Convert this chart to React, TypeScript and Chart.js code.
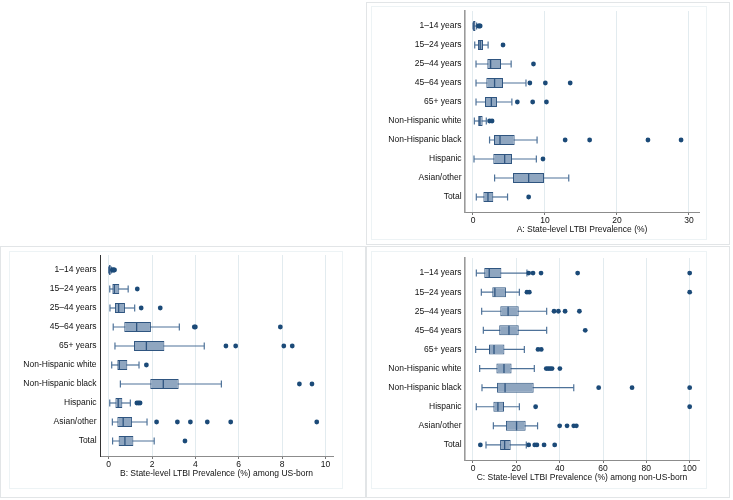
import React, { useEffect, useRef } from 'react';
import { Chart, registerables } from 'chart.js';

Chart.register(...registerables);

// ---------- data ----------
const categories = [
  '1–14 years',
  '15–24 years',
  '25–44 years',
  '45–64 years',
  '65+ years',
  'Non-Hispanic white',
  'Non-Hispanic black',
  'Hispanic',
  'Asian/other',
  'Total',
];

// Panel A: State-level LTBI prevalence (%)
const aTicks = [0, 10, 20, 30];
const aLow = [0.0, 0.24, 0.42, 0.42, 0.42, 0.19, 2.3, 0.14, 3.0, 0.46];
const aQ1 = [0.03, 0.69, 1.99, 1.85, 1.67, 0.72, 2.92, 2.82, 5.56, 1.44];
const aMed = [0.12, 1.0, 2.45, 3.0, 2.55, 0.95, 3.75, 4.4, 7.73, 2.08];
const aQ3 = [0.35, 1.39, 3.89, 4.17, 3.33, 1.34, 5.79, 5.42, 9.86, 2.82];
const aHigh = [0.5, 2.1, 5.3, 7.36, 5.4, 1.85, 8.9, 8.8, 13.3, 4.8];
const aOut = [
  [0.75, 0.9, 1.0],
  [4.17],
  [8.4],
  [7.9, 10.05, 13.5],
  [6.16, 8.29, 10.2],
  [2.3, 2.65],
  [12.8, 16.2, 24.3, 28.9],
  [9.72],
  [],
  [7.73],
];

// Panel B: among US-born
const bTicks = [0, 2, 4, 6, 8, 10];
const bLow = [0.0, 0.05, 0.06, 0.21, 0.29, 0.14, 0.54, 0.05, 0.17, 0.18];
const bQ1 = [0.02, 0.17, 0.29, 0.72, 1.17, 0.4, 1.92, 0.31, 0.4, 0.46];
const bMed = [0.05, 0.26, 0.46, 1.29, 1.74, 0.49, 2.52, 0.44, 0.67, 0.75];
const bQ3 = [0.09, 0.49, 0.75, 1.95, 2.57, 0.86, 3.23, 0.63, 1.08, 1.14];
const bHigh = [0.13, 0.9, 1.2, 3.26, 4.41, 1.4, 5.2, 1.0, 1.77, 2.1];
const bOut = [
  [0.17, 0.2, 0.24, 0.27],
  [1.32],
  [1.5, 2.38],
  [3.95, 4.0, 7.92],
  [5.41, 5.86, 8.08, 8.47],
  [1.74],
  [8.8, 9.38],
  [1.3, 1.38, 1.45],
  [2.21, 3.17, 3.77, 4.55, 5.63, 9.6],
  [3.52],
];

// Panel C: among non-US-born
const cTicks = [0, 20, 40, 60, 80, 100];
const cLow = [1.54, 3.85, 4.0, 4.77, 1.23, 3.08, 4.15, 1.54, 9.4, 6.0];
const cQ1 = [5.2, 8.9, 12.6, 12.1, 7.4, 10.8, 11.1, 9.4, 15.2, 12.5];
const cMed = [7.5, 10.1, 16.2, 16.6, 9.7, 14.3, 14.8, 11.5, 20.1, 14.6];
const cQ3 = [13.1, 15.2, 21.1, 21.1, 14.5, 17.8, 28.0, 14.3, 24.3, 17.4];
const cHigh = [24.9, 21.4, 34.0, 34.0, 23.7, 28.3, 46.5, 21.4, 29.8, 24.6];
const cOut = [
  [25.7, 27.7, 31.4, 48.3, 100],
  [24.9, 26.0, 100],
  [37.4, 39.4, 42.5, 49.1],
  [51.8],
  [30.0, 31.5],
  [33.8, 34.7, 35.6, 36.5, 40.1],
  [58.0, 73.4, 100],
  [28.9, 100],
  [40.0, 43.4, 46.5, 47.7],
  [3.4, 25.7, 28.5, 29.5, 32.8, 37.7],
];

// ---------- styles ----------
const FONT = { family: '"Liberation Sans", Arial, sans-serif', size: 8.5 };
const TEXT = '#111111';
const BOX_FILL = '#8fa6c0';
const BOX_BORDER = '#2f5580';
const WHISKER = '#4e7299';
const POINT = '#1b4a78';
const GRID = '#e2ebef';

type PanelProps = {
  left: number;
  top: number;
  width: number;
  height: number;
  area: { l: number; r: number; t: number; b: number };
  xMin: number;
  xMax: number;
  ticks: number[];
  title: string;
  titlePad: number;
  low: number[];
  q1: number[];
  med: number[];
  q3: number[];
  high: number[];
  out: number[][];
  yAxisColor: string;
  yAxisWidth: number;
};

function BoxPanel(p: PanelProps) {
  const ref = useRef<HTMLCanvasElement>(null);
  useEffect(() => {
    const canvas = ref.current;
    if (!canvas) return;
    const rows = categories.map((_, i) => i);
    const whiskers = rows.map((i) => ({ x: [p.low[i], p.high[i]], y: i }));
    const boxes = rows.map((i) => ({ x: [p.q1[i], p.q3[i]], y: i }));
    const caps = rows.flatMap((i) => [
      { x: p.low[i], y: i },
      { x: p.high[i], y: i },
    ]);
    const meds = rows.map((i) => ({ x: p.med[i], y: i }));
    const outs = rows.flatMap((i) => p.out[i].map((v) => ({ x: v, y: i })));

    const chart = new Chart(canvas, {
      type: 'bar',
      data: {
        datasets: [
          {
            type: 'scatter',
            data: outs,
            pointStyle: 'circle',
            pointRadius: 2.4,
            pointBackgroundColor: POINT,
            pointBorderWidth: 0,
            order: 0,
          } as any,
          {
            type: 'scatter',
            data: meds,
            pointStyle: 'line',
            pointRotation: 90,
            pointRadius: 4.5,
            pointBorderColor: BOX_BORDER,
            pointBorderWidth: 1.3,
            order: 1,
          } as any,
          {
            type: 'scatter',
            data: caps,
            pointStyle: 'line',
            pointRotation: 90,
            pointRadius: 3.5,
            pointBorderColor: WHISKER,
            pointBorderWidth: 1.2,
            order: 2,
          } as any,
          {
            type: 'bar',
            indexAxis: 'y',
            data: boxes,
            backgroundColor: BOX_FILL,
            borderColor: BOX_BORDER,
            borderWidth: 1,
            borderSkipped: false,
            barThickness: 10,
            grouped: false,
            inflateAmount: 0,
            order: 3,
          } as any,
          {
            type: 'bar',
            indexAxis: 'y',
            data: whiskers,
            backgroundColor: WHISKER,
            borderWidth: 0,
            barThickness: 1.2,
            grouped: false,
            inflateAmount: 0,
            order: 4,
          } as any,
        ],
      },
      options: {
        responsive: false,
        animation: false,
        events: [],
        indexAxis: 'y',
        layout: {
          padding: { left: 0, right: p.width - p.area.r, top: p.area.t, bottom: 0 },
        },
        plugins: {
          legend: { display: false },
          tooltip: { enabled: false },
          title: { display: false },
        },
        scales: {
          x: {
            type: 'linear',
            position: 'bottom',
            min: p.xMin,
            max: p.xMax,
            bounds: 'data',
            offset: false,
            beginAtZero: false,
            afterBuildTicks: (s: any) => {
              s.ticks = p.ticks.map((v) => ({ value: v }));
            },
            afterFit: (s: any) => {
              s.height = p.height - p.area.b;
            },
            grid: {
              color: GRID,
              lineWidth: 1,
              tickLength: 3,
              tickColor: '#777777',
              drawTicks: true,
              offset: false,
            },
            border: { display: true, color: '#8c8c8c', width: 1 },
            ticks: {
              padding: 1,
              color: TEXT,
              font: FONT,
              autoSkip: false,
              maxRotation: 0,
              callback: (v: any) => String(v),
            },
            title: {
              display: true,
              text: p.title,
              color: TEXT,
              font: FONT,
              padding: { top: 0, bottom: p.titlePad },
            },
          },
          y: {
            type: 'linear',
            position: 'left',
            reverse: true,
            min: -0.79,
            max: 9.79,
            bounds: 'data',
            offset: false,
            beginAtZero: false,
            afterBuildTicks: (s: any) => {
              s.ticks = categories.map((_, i) => ({ value: i }));
            },
            afterFit: (s: any) => {
              s.width = p.area.l;
            },
            grid: { display: false, drawTicks: false, offset: false },
            border: { display: true, color: p.yAxisColor, width: p.yAxisWidth },
            ticks: {
              padding: 3.4,
              color: TEXT,
              font: FONT,
              autoSkip: false,
              callback: (v: any) => categories[Math.round(v)] ?? '',
            },
          },
        },
      } as any,
    });
    return () => chart.destroy();
  }, []);

  return (
    <canvas
      ref={ref}
      width={p.width}
      height={p.height}
      style={{ position: 'absolute', left: p.left, top: p.top, width: p.width, height: p.height }}
    />
  );
}

function Frame(props: { l: number; t: number; w: number; h: number; c: string }) {
  return (
    <div
      style={{
        position: 'absolute',
        left: props.l,
        top: props.t,
        width: props.w,
        height: props.h,
        border: `1px solid ${props.c}`,
        boxSizing: 'border-box',
      }}
    />
  );
}

const OUTER = '#e2e5e7';
const INNER = '#edf3f5';

export default function App() {
  return (
    <div
      style={{
        position: 'fixed',
        left: 0,
        top: 0,
        width: 733,
        height: 500,
        background: '#ffffff',
        overflow: 'hidden',
      }}
    >
      {/* frames */}
      <Frame l={366} t={2} w={364} h={243} c={OUTER} />
      <Frame l={371} t={6} w={336} h={234} c={INNER} />
      <Frame l={0} t={246} w={366} h={252} c={OUTER} />
      <Frame l={9} t={251} w={334} h={238} c={INNER} />
      <Frame l={366} t={246} w={364} h={252} c={OUTER} />
      <Frame l={371} t={251} w={336} h={238} c={INNER} />

      <BoxPanel
        left={366}
        top={0}
        width={364}
        height={244}
        area={{ l: 99, r: 333, t: 11, b: 212 }}
        xMin={-1.11}
        xMax={31.39}
        ticks={aTicks}
        title="A: State-level LTBI Prevalence (%)"
        titlePad={9}
        low={aLow}
        q1={aQ1}
        med={aMed}
        q3={aQ3}
        high={aHigh}
        out={aOut}
        yAxisColor="#9a9a9a"
        yAxisWidth={1.6}
      />
      <BoxPanel
        left={0}
        top={246}
        width={366}
        height={252}
        area={{ l: 100, r: 333, t: 9, b: 210 }}
        xMin={-0.4}
        xMax={10.35}
        ticks={bTicks}
        title="B: State-level LTBI Prevalence (%) among US-born"
        titlePad={19}
        low={bLow}
        q1={bQ1}
        med={bMed}
        q3={bQ3}
        high={bHigh}
        out={bOut}
        yAxisColor="#333333"
        yAxisWidth={1}
      />
      <BoxPanel
        left={366}
        top={246}
        width={364}
        height={252}
        area={{ l: 99, r: 333, t: 12, b: 214 }}
        xMin={-3.69}
        xMax={104.3}
        ticks={cTicks}
        title="C: State-level LTBI Prevalence (%) among non-US-born"
        titlePad={15}
        low={cLow}
        q1={cQ1}
        med={cMed}
        q3={cQ3}
        high={cHigh}
        out={cOut}
        yAxisColor="#9a9a9a"
        yAxisWidth={1.6}
      />
    </div>
  );
}
